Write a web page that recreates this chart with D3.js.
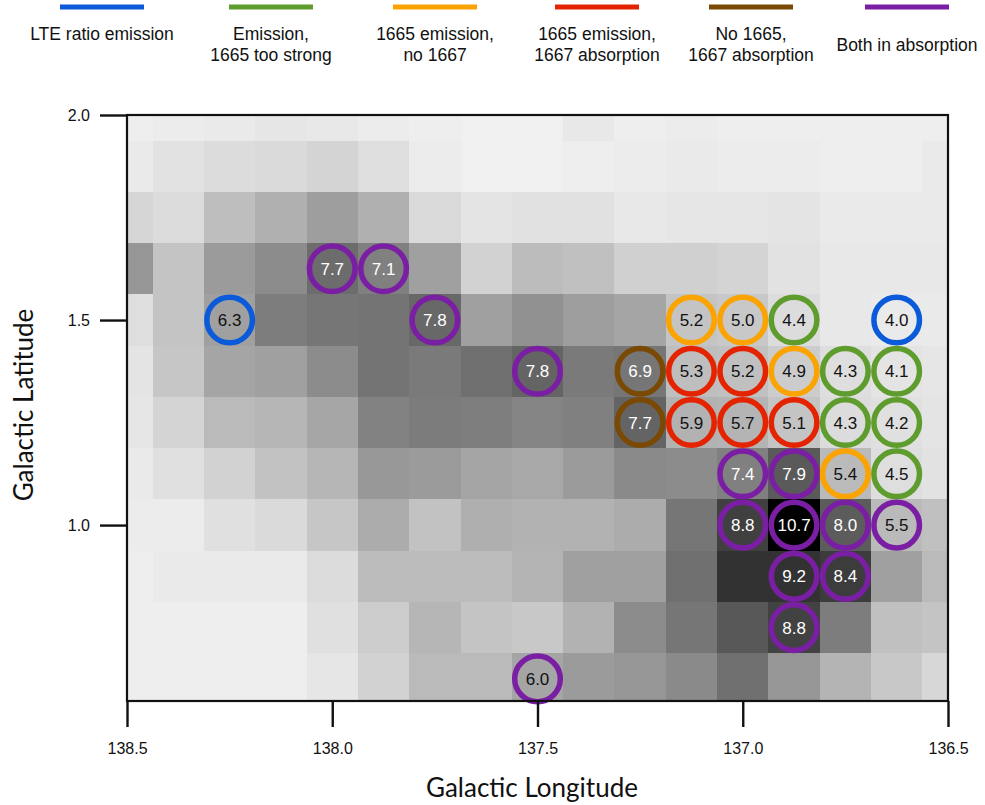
<!DOCTYPE html>
<html>
<head>
<meta charset="utf-8">
<script src="https://cdn.jsdelivr.net/npm/d3@7"></script>
<style>
  html, body { margin: 0; padding: 0; background: #fff; }
  svg { display: block; }
</style>
</head>
<body>
<svg id="chart" width="985" height="805"></svg>
<script>
// Grid of map pixels: longitude columns and latitude rows (cell centres, degrees)
const longitudes = [138.5, 138.375, 138.25, 138.125, 138.0, 137.875, 137.75, 137.625,
                    137.5, 137.375, 137.25, 137.125, 137.0, 136.875, 136.75, 136.625, 136.5];
const latitudes = [2.0, 1.875, 1.75, 1.625, 1.5, 1.375, 1.25, 1.125, 1.0, 0.875, 0.75, 0.625];

// Map intensity per cell (0 = faint, 240 = strongest), one row per latitude
const intensity = [
  [2, 4, 6, 10, 8, 4, 2, 0, 0, 8, 2, 4, 2, 2, 2, 2, 2],
  [6, 14, 20, 22, 28, 18, 4, 0, 0, 2, 4, 6, 4, 4, 2, 2, 6],
  [26, 20, 50, 64, 82, 64, 22, 12, 15, 15, 8, 10, 10, 12, 6, 6, 6],
  [90, 44, 85, 100, 132, 112, 80, 30, 52, 48, 32, 32, 28, 14, 8, 8, 8],
  [18, 44, 80, 115, 122, 124, 136, 80, 95, 82, 75, 44, 40, 20, 8, 6, 6],
  [12, 42, 75, 80, 100, 124, 118, 128, 140, 118, 122, 50, 48, 36, 18, 12, 10],
  [10, 28, 54, 58, 74, 110, 116, 114, 108, 112, 140, 62, 60, 44, 20, 16, 12],
  [6, 16, 30, 46, 58, 88, 85, 75, 72, 85, 102, 100, 112, 150, 54, 18, 14],
  [4, 4, 16, 22, 42, 68, 46, 65, 62, 62, 68, 122, 176, 240, 148, 54, 48],
  [2, 6, 6, 6, 20, 52, 52, 52, 60, 80, 80, 128, 190, 190, 180, 80, 54],
  [2, 2, 2, 2, 16, 36, 58, 44, 40, 62, 100, 122, 152, 174, 115, 48, 44],
  [2, 2, 2, 2, 10, 30, 54, 54, 75, 85, 90, 102, 128, 90, 60, 40, 25]
];

// OH line categories shown in the legend
const categories = [
  "LTE ratio emission",
  "Emission,\n1665 too strong",
  "1665 emission,\nno 1667",
  "1665 emission,\n1667 absorption",
  "No 1665,\n1667 absorption",
  "Both in absorption"
];
const categoryColors = ["#0a5ad9", "#5f9c2e", "#fba300", "#e42400", "#7a4a04", "#7a1fa3"];

// Observed positions: longitude, latitude, labelled value, category index
const pointLon = [138.25, 136.625, 138.0, 137.875, 137.75, 137.125, 137.0, 136.875,
                  137.5, 137.25, 137.125, 137.0, 136.875, 136.75, 136.625,
                  137.25, 137.125, 137.0, 136.875, 136.75, 136.625,
                  137.0, 136.875, 136.75, 136.625,
                  137.0, 136.875, 136.75, 136.625,
                  136.875, 136.75, 136.875, 137.5];
const pointLat = [1.5, 1.5, 1.625, 1.625, 1.5, 1.5, 1.5, 1.5,
                  1.375, 1.375, 1.375, 1.375, 1.375, 1.375, 1.375,
                  1.25, 1.25, 1.25, 1.25, 1.25, 1.25,
                  1.125, 1.125, 1.125, 1.125,
                  1.0, 1.0, 1.0, 1.0,
                  0.875, 0.875, 0.75, 0.625];
const pointValue = [6.3, 4.0, 7.7, 7.1, 7.8, 5.2, 5.0, 4.4,
                    7.8, 6.9, 5.3, 5.2, 4.9, 4.3, 4.1,
                    7.7, 5.9, 5.7, 5.1, 4.3, 4.2,
                    7.4, 7.9, 5.4, 4.5,
                    8.8, 10.7, 8.0, 5.5,
                    9.2, 8.4, 8.8, 6.0];
const pointCategory = [0, 0, 5, 5, 5, 2, 2, 1,
                       5, 4, 3, 3, 2, 1, 1,
                       4, 3, 3, 3, 1, 1,
                       5, 5, 2, 1,
                       5, 5, 5, 5,
                       5, 5, 5, 5];

const xTicks = [138.5, 138.0, 137.5, 137.0, 136.5];
const yTicks = [1.0, 1.5, 2.0];

// ---- layout ----
const plot = { left: 127, right: 948, top: 115, bottom: 701 };
const svg = d3.select("#chart");
const sansFont = "'Liberation Sans', Arial, Helvetica, sans-serif";
const titleFont = "Lato, 'Open Sans', sans-serif";

const x = d3.scaleLinear().domain([138.5, 136.5]).range([plot.left, plot.right]);
const y = d3.scaleLinear().domain([0.571, 2.0]).range([plot.bottom, plot.top]);
const half = 0.0625;
const grey = d3.scaleLinear().domain([0, 240]).range(["#f0f0f0", "#000000"]);

svg.append("defs").append("clipPath").attr("id", "plot-clip")
  .append("rect")
  .attr("x", plot.left).attr("y", plot.top)
  .attr("width", plot.right - plot.left).attr("height", plot.bottom - plot.top);

// heat map cells
const cells = [];
latitudes.forEach((lat, i) => longitudes.forEach((lon, j) => {
  cells.push({ lon, lat, v: intensity[i][j] });
}));

svg.append("g").attr("clip-path", "url(#plot-clip)")
  .selectAll("rect").data(cells).join("rect")
  .attr("x", d => x(d.lon + half))
  .attr("y", d => y(d.lat + half))
  .attr("width", d => x(d.lon - half) - x(d.lon + half) + 0.5)
  .attr("height", d => y(d.lat - half) - y(d.lat + half) + 0.5)
  .attr("fill", d => grey(d.v))
  .attr("shape-rendering", "crispEdges");

// labelled rings
const points = pointLon.map((lon, i) => ({
  lon, lat: pointLat[i], value: pointValue[i], cat: pointCategory[i]
}));
// draw top-to-bottom, left-to-right so lower rings overlap upper ones
points.sort((a, b) => (b.lat - a.lat) || (b.lon - a.lon));

const ring = svg.append("g").selectAll("g").data(points).join("g")
  .attr("transform", d => `translate(${x(d.lon)},${y(d.lat)})`);
ring.append("circle")
  .attr("r", 22.8)
  .attr("fill", "none")
  .attr("stroke", d => categoryColors[d.cat])
  .attr("stroke-width", 5.5);
ring.append("text")
  .attr("text-anchor", "middle")
  .attr("dy", "0.36em")
  .attr("font-family", sansFont)
  .attr("font-size", 17)
  .attr("fill", d => d.value > 6.5 ? "#ffffff" : "#111111")
  .text(d => d3.format(".1f")(d.value));

// frame
svg.append("rect")
  .attr("x", plot.left).attr("y", plot.top)
  .attr("width", plot.right - plot.left).attr("height", plot.bottom - plot.top)
  .attr("fill", "none").attr("stroke", "#111").attr("stroke-width", 2.2);

// axes
const xAxis = svg.append("g")
  .attr("transform", `translate(0,${plot.bottom})`)
  .call(d3.axisBottom(x).tickValues(xTicks).tickFormat(d3.format(".1f"))
    .tickSize(26).tickSizeOuter(0).tickPadding(16));
const yAxis = svg.append("g")
  .attr("transform", `translate(${plot.left},0)`)
  .call(d3.axisLeft(y).tickValues(yTicks).tickFormat(d3.format(".1f"))
    .tickSize(27).tickSizeOuter(0).tickPadding(10));

[xAxis, yAxis].forEach(a => {
  a.select(".domain").remove();
  a.selectAll(".tick line").attr("stroke", "#111").attr("stroke-width", 2.4);
  a.selectAll(".tick text").attr("font-family", sansFont).attr("font-size", 16).attr("fill", "#111");
});

// axis titles
svg.append("text")
  .attr("x", 532).attr("y", 797)
  .attr("text-anchor", "middle")
  .attr("font-family", titleFont)
  .attr("font-size", 26).attr("fill", "#111")
  .text("Galactic Longitude");
svg.append("text")
  .attr("transform", "translate(33,405) rotate(-90)")
  .attr("text-anchor", "middle")
  .attr("font-family", titleFont)
  .attr("font-size", 26).attr("fill", "#111")
  .text("Galactic Latitude");

// legend
const legendX = [102, 271, 435, 597, 751, 907];
const legend = svg.append("g").selectAll("g").data(categories).join("g")
  .attr("transform", (d, i) => `translate(${legendX[i]},0)`);
legend.append("line")
  .attr("x1", -42).attr("x2", 42).attr("y1", 7).attr("y2", 7)
  .attr("stroke", (d, i) => categoryColors[i]).attr("stroke-width", 5);
legend.append("text")
  .attr("text-anchor", "middle")
  .attr("font-family", sansFont)
  .attr("font-size", 17.5).attr("fill", "#111")
  .each(function (d, i) {
    const lines = d.split("\n");
    const t = d3.select(this);
    const y0 = (lines.length === 1 && i === categories.length - 1) ? 51 : 40;
    lines.forEach((ln, k) => t.append("tspan").attr("x", 0).attr("y", y0 + k * 21).text(ln));
  });
</script>
</body>
</html>
